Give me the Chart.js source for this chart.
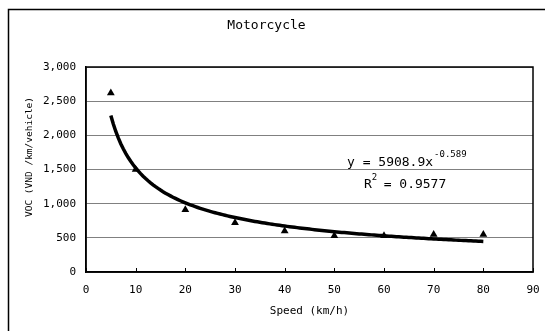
<!DOCTYPE html>
<html>
<head>
<meta charset="utf-8">
<script src="https://cdn.jsdelivr.net/npm/chart.js@4"></script>
<style>
  html, body { margin: 0; padding: 0; background: #fff; }
  #wrap { width: 545px; height: 331px; }
</style>
</head>
<body>
<div id="wrap"><canvas id="vocChart"></canvas></div>
<script>
const speeds = [5, 10, 20, 30, 40, 50, 60, 70, 80];
const vocValues = [2620, 1500, 910, 720, 600, 530, 530, 550, 550];
// power trendline y = a * x^b shown on the chart
const fitCoef = 5908.9;
const fitExp = -0.589;
const rSquared = 0.9577;
const xTicks = [0, 10, 20, 30, 40, 50, 60, 70, 80, 90];
const yTicks = [0, 500, 1000, 1500, 2000, 2500, 3000];
const yTitle = 'VOC (VND /km/vehicle)';

const FONT = "'DejaVu Sans Mono', 'Liberation Mono', monospace";

const points = speeds.map((s, i) => ({ x: s, y: vocValues[i] }));
const trend = [];
for (let s = speeds[0]; s <= speeds[speeds.length - 1]; s += 0.5) {
  trend.push({ x: s, y: fitCoef * Math.pow(s, fitExp) });
}

const frame = {
  id: 'frame',
  beforeDraw(chart) {
    const c = chart.ctx;
    c.save();
    c.fillStyle = '#fff';
    c.fillRect(0, 0, chart.width, chart.height);
    c.strokeStyle = '#000';
    c.lineWidth = 1.5;
    c.strokeRect(8.5, 9.5, 800, 800);
    c.restore();
  },
  afterDatasetsDraw(chart) {
    const c = chart.ctx;
    const a = chart.chartArea;
    const xs = chart.scales.x;
    c.save();
    c.strokeStyle = '#000';
    c.lineWidth = 1.5;
    c.strokeRect(a.left, a.top, a.right - a.left, a.bottom - a.top);
    // inner tick marks on the speed axis
    c.lineWidth = 1;
    xTicks.forEach(t => {
      const px = Math.round(xs.getPixelForValue(t)) + 0.5;
      c.beginPath();
      c.moveTo(px, a.bottom);
      c.lineTo(px, a.bottom - 4);
      c.stroke();
    });
    c.fillStyle = '#000';
    // vertical axis title
    c.save();
    c.translate(30, 157);
    c.rotate(-Math.PI / 2);
    c.font = '9.5px ' + FONT;
    c.textAlign = 'center';
    c.textBaseline = 'middle';
    c.fillText(yTitle, 0, 0);
    c.restore();
    // trendline equation
    c.textBaseline = 'alphabetic';
    c.font = '13px ' + FONT;
    const eq = 'y = ' + fitCoef.toFixed(1) + 'x';
    c.fillText(eq, 347, 166);
    const w = c.measureText(eq).width;
    c.font = '9px ' + FONT;
    c.fillText(fitExp.toFixed(3), 347 + w + 1, 157);
    c.font = '13px ' + FONT;
    c.fillText('R', 364, 188);
    const rw = c.measureText('R').width;
    c.font = '9px ' + FONT;
    c.fillText('2', 364 + rw, 180);
    c.font = '13px ' + FONT;
    c.fillText(' = ' + rSquared.toFixed(4), 364 + rw + 4, 188);
    c.restore();
  }
};

new Chart(document.getElementById('vocChart'), {
  type: 'scatter',
  data: {
    datasets: [{
      label: 'VOC',
      data: points,
      pointStyle: 'triangle',
      pointRadius: 4.5,
      backgroundColor: '#000',
      borderColor: '#000',
      borderWidth: 0,
      order: 1
    }, {
      label: 'Power trend',
      data: trend,
      showLine: true,
      pointRadius: 0,
      borderColor: '#000',
      borderWidth: 3.5,
      tension: 0,
      order: 2
    }]
  },
  options: {
    responsive: true,
    maintainAspectRatio: false,
    animation: false,
    devicePixelRatio: 1,
    layout: { padding: { left: 0, right: 12, top: 0, bottom: 0 } },
    plugins: {
      legend: { display: false },
      tooltip: { enabled: false },
      title: {
        display: true,
        text: 'Motorcycle',
        color: '#000',
        font: { family: FONT, size: 13, weight: 'normal', lineHeight: 1.2 },
        padding: { top: 18, bottom: 33.4 }
      }
    },
    scales: {
      x: {
        type: 'linear',
        min: 0,
        max: 90,
        afterBuildTicks(scale) { scale.ticks = xTicks.map(v => ({ value: v })); },
        afterFit(scale) { scale.height = 59; },
        grid: { display: false },
        border: { display: true, color: '#000', width: 1.5 },
        ticks: { color: '#000', padding: 4, font: { family: FONT, size: 11 } },
        title: {
          display: true,
          text: 'Speed (km/h)',
          color: '#000',
          font: { family: FONT, size: 11 },
          padding: { top: 0, bottom: 13 }
        }
      },
      y: {
        min: 0,
        max: 3000,
        afterBuildTicks(scale) { scale.ticks = yTicks.map(v => ({ value: v })); },
        afterFit(scale) { scale.width = 86; },
        grid: { color: '#808080', lineWidth: 1, drawTicks: false },
        border: { display: true, color: '#000', width: 1.5 },
        ticks: {
          color: '#000',
          padding: 10,
          font: { family: FONT, size: 11 },
          callback: v => v.toLocaleString('en-US')
        }
      }
    }
  },
  plugins: [frame]
});
</script>
</body>
</html>
